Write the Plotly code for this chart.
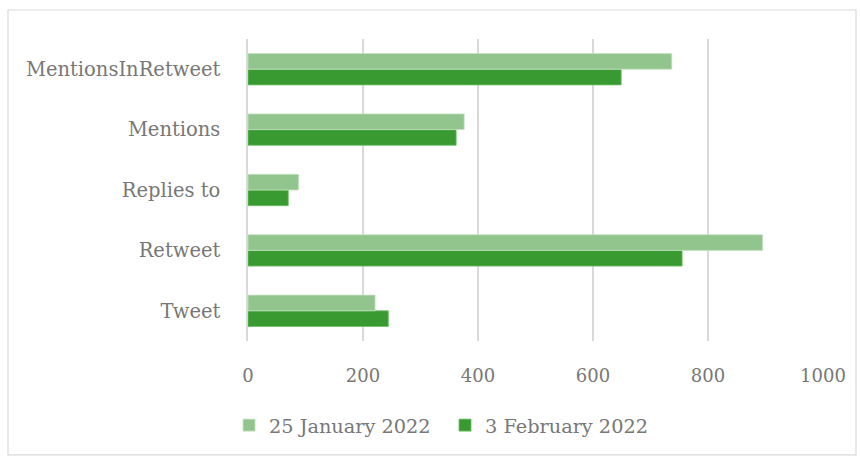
import plotly.graph_objects as go

categories = ["Tweet", "Retweet", "Replies to", "Mentions", "MentionsInRetweet"]
jan25 = [221, 895, 88, 376, 737]
feb3 = [244, 755, 70, 362, 649]
series_names = ["25 January 2022", "3 February 2022"]
x_ticks = [0, 200, 400, 600, 800, 1000]

LIGHT = "#92C58E"
DARK = "#3A9A32"
TEXT = "#777777"
GRID = "#D9D9D9"
FONT = "DejaVu Serif"

fig = go.Figure()
fig.add_trace(go.Bar(
    y=categories, x=feb3, orientation="h", name=series_names[1],
    marker=dict(color=DARK, line=dict(color="#6CBF65", width=0.8)),
    legendrank=2,
))
fig.add_trace(go.Bar(
    y=categories, x=jan25, orientation="h", name=series_names[0],
    marker=dict(color=LIGHT, line=dict(color="#C4E2C1", width=0.8)),
    legendrank=1,
))

# outer border
fig.add_shape(type="rect", xref="paper", yref="paper",
              x0=-0.4174, x1=1.0574, y0=-0.377, y1=1.096,
              line=dict(color=GRID, width=1.2), fillcolor="rgba(0,0,0,0)", layer="below")

fig.update_layout(
    width=860, height=458,
    margin=dict(l=248, r=37, t=39, b=117),
    paper_bgcolor="white", plot_bgcolor="white",
    barmode="group", bargap=0.48, bargroupgap=0,
    font=dict(family=FONT, color=TEXT, size=18),
    showlegend=True,
    legend=dict(orientation="h", x=-0.033, xanchor="left", y=-0.28, yanchor="middle",
                font=dict(family=FONT, size=19.3, color=TEXT), traceorder="normal",
                itemwidth=30, entrywidth=171, entrywidthmode="pixels"),
    xaxis=dict(range=[0, 1000], tickvals=x_ticks, showgrid=True, gridcolor=GRID, gridwidth=1.5,
               zeroline=False, showline=False, ticks="", ticklabelstandoff=22,
               tickfont=dict(family=FONT, size=18, color=TEXT)),
    yaxis=dict(showgrid=False, zeroline=False, showline=True, linecolor=GRID, linewidth=1.5,
               ticks="", ticklabelstandoff=22, categoryorder="array", categoryarray=categories,
               tickfont=dict(family=FONT, size=19.5, color=TEXT)),
)

fig.write_html("out.html", config={"displayModeBar": False},
               post_script="document.body.style.margin='0';document.body.style.overflow='hidden';")
